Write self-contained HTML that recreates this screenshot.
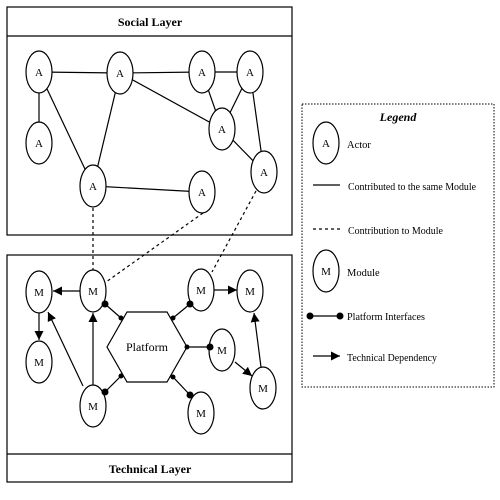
<!DOCTYPE html>
<html><head><style>html,body{margin:0;padding:0;background:#fff}svg{display:block}text{font-family:"Liberation Serif",serif;fill:#000}</style></head>
<body>
<svg width="500" height="500" viewBox="0 0 500 500" xmlns="http://www.w3.org/2000/svg">
<defs>
<marker id="ar" viewBox="0 0 10 10" refX="10" refY="5" markerWidth="9" markerHeight="9" markerUnits="userSpaceOnUse" orient="auto"><path d="M0,0L10,5L0,10z" fill="#000"/></marker>
</defs>
<g stroke="#000" fill="none" stroke-width="1.2">
<rect x="7" y="7" width="285" height="228"/>
<line x1="7" y1="36" x2="292" y2="36"/>
<rect x="7" y="255" width="285" height="227"/>
<line x1="7" y1="454" x2="292" y2="454"/>
<rect x="302" y="104" width="192" height="283" stroke-dasharray="1.5,1.5" stroke-width="1"/>
<!-- social edges -->
<line x1="39" y1="72" x2="120" y2="73"/>
<line x1="120" y1="73" x2="202" y2="72"/>
<line x1="202" y1="72" x2="250" y2="72"/>
<line x1="39" y1="72" x2="39" y2="143"/>
<line x1="39" y1="72" x2="93" y2="186"/>
<line x1="120" y1="73" x2="93" y2="186"/>
<line x1="120" y1="73" x2="222" y2="129"/>
<line x1="202" y1="72" x2="222" y2="129"/>
<line x1="250" y1="72" x2="222" y2="129"/>
<line x1="250" y1="72" x2="264" y2="172"/>
<line x1="222" y1="129" x2="264" y2="172"/>
<line x1="93" y1="186" x2="202" y2="192"/>
<!-- dashed -->
<g stroke-dasharray="3,3">
<line x1="93" y1="208" x2="93" y2="270"/>
<line x1="203" y1="213" x2="106" y2="282"/>
<line x1="256" y1="191" x2="212" y2="272"/>
</g>
<!-- arrows -->
<line x1="80" y1="291" x2="53" y2="291" marker-end="url(#ar)"/>
<line x1="39" y1="313" x2="39" y2="340" marker-end="url(#ar)"/>
<line x1="83" y1="386" x2="48" y2="312" marker-end="url(#ar)"/>
<line x1="93" y1="385" x2="93" y2="313" marker-end="url(#ar)"/>
<line x1="214" y1="290" x2="237" y2="290" marker-end="url(#ar)"/>
<line x1="235" y1="362" x2="252" y2="376" marker-end="url(#ar)"/>
<line x1="261" y1="367" x2="254" y2="313" marker-end="url(#ar)"/>
<!-- hexagon -->
<polygon points="107,347 127,312 167,312 187,347 167,382 127,382" fill="#fff"/>
<!-- interfaces -->
<line x1="105" y1="304" x2="121" y2="318"/>
<line x1="105" y1="392" x2="121" y2="376"/>
<line x1="190" y1="304" x2="173" y2="318"/>
<line x1="187" y1="347" x2="210" y2="347"/>
<line x1="173" y1="377" x2="190" y2="395"/>
<!-- social nodes -->
<g fill="#fff">
<ellipse cx="39" cy="72" rx="13" ry="21"/><ellipse cx="120" cy="73" rx="13" ry="21"/>
<ellipse cx="202" cy="72" rx="13" ry="21"/><ellipse cx="250" cy="72" rx="13" ry="21"/>
<ellipse cx="222" cy="129" rx="13" ry="21"/><ellipse cx="39" cy="143" rx="13" ry="21"/>
<ellipse cx="93" cy="186" rx="13" ry="21"/><ellipse cx="202" cy="192" rx="13" ry="21"/>
<ellipse cx="264" cy="172" rx="13" ry="21"/>
<ellipse cx="39" cy="292" rx="13" ry="21"/><ellipse cx="93" cy="291" rx="13" ry="21"/>
<ellipse cx="201" cy="290" rx="13" ry="21"/><ellipse cx="250" cy="291" rx="13" ry="21"/>
<ellipse cx="39" cy="362" rx="13" ry="21"/><ellipse cx="222" cy="350" rx="13" ry="21"/>
<ellipse cx="93" cy="406" rx="13" ry="21"/><ellipse cx="263" cy="388" rx="13" ry="21"/>
<ellipse cx="201" cy="413" rx="13" ry="21"/>
<ellipse cx="326" cy="143" rx="13" ry="21"/><ellipse cx="326" cy="271" rx="13" ry="21"/>
</g>
<line x1="313" y1="185" x2="340" y2="185"/>
<line x1="313" y1="229" x2="340" y2="229" stroke-dasharray="3,3"/>
<line x1="310" y1="316" x2="340" y2="316"/>
<line x1="313" y1="356" x2="340" y2="356" marker-end="url(#ar)"/>
</g>
<g fill="#000">
<circle cx="105" cy="304" r="3.5"/><circle cx="121" cy="318" r="2.5"/>
<circle cx="105" cy="392" r="3.5"/><circle cx="121" cy="376" r="2.5"/>
<circle cx="190" cy="304" r="3.5"/><circle cx="173" cy="318" r="2.5"/>
<circle cx="187" cy="347" r="2.5"/><circle cx="210" cy="347" r="3.5"/>
<circle cx="173" cy="377" r="2.5"/><circle cx="190" cy="395" r="3.5"/>
<circle cx="310" cy="316" r="3.5"/><circle cx="340" cy="316" r="3.5"/>
</g>
<g font-size="11" text-anchor="middle">
<text x="39" y="76">A</text><text x="120" y="77">A</text><text x="202" y="76">A</text><text x="250" y="76">A</text>
<text x="222" y="133">A</text><text x="39" y="147">A</text><text x="93" y="190">A</text><text x="202" y="196">A</text><text x="264" y="176">A</text>
<text x="39" y="296">M</text><text x="93" y="295">M</text><text x="201" y="294">M</text><text x="250" y="295">M</text>
<text x="39" y="366">M</text><text x="222" y="354">M</text><text x="93" y="410">M</text><text x="263" y="392">M</text><text x="201" y="417">M</text>
<text x="326" y="147">A</text><text x="326" y="275">M</text>
<text x="147" y="351" font-size="12">Platform</text>
<text x="150" y="26" font-size="12" font-weight="bold">Social Layer</text>
<text x="150" y="473" font-size="12" font-weight="bold">Technical Layer</text>
<text x="398" y="121" font-size="12" font-weight="bold" font-style="italic">Legend</text>
</g>
<g font-size="10.5">
<text x="347" y="148">Actor</text>
<text x="348" y="190" textLength="128" lengthAdjust="spacingAndGlyphs">Contributed to the same Module</text>
<text x="348" y="234" textLength="95" lengthAdjust="spacingAndGlyphs">Contribution to Module</text>
<text x="347" y="276">Module</text>
<text x="347" y="320" textLength="78" lengthAdjust="spacingAndGlyphs">Platform Interfaces</text>
<text x="347" y="361" textLength="90" lengthAdjust="spacingAndGlyphs">Technical Dependency</text>
</g>
</svg>
</body></html>
